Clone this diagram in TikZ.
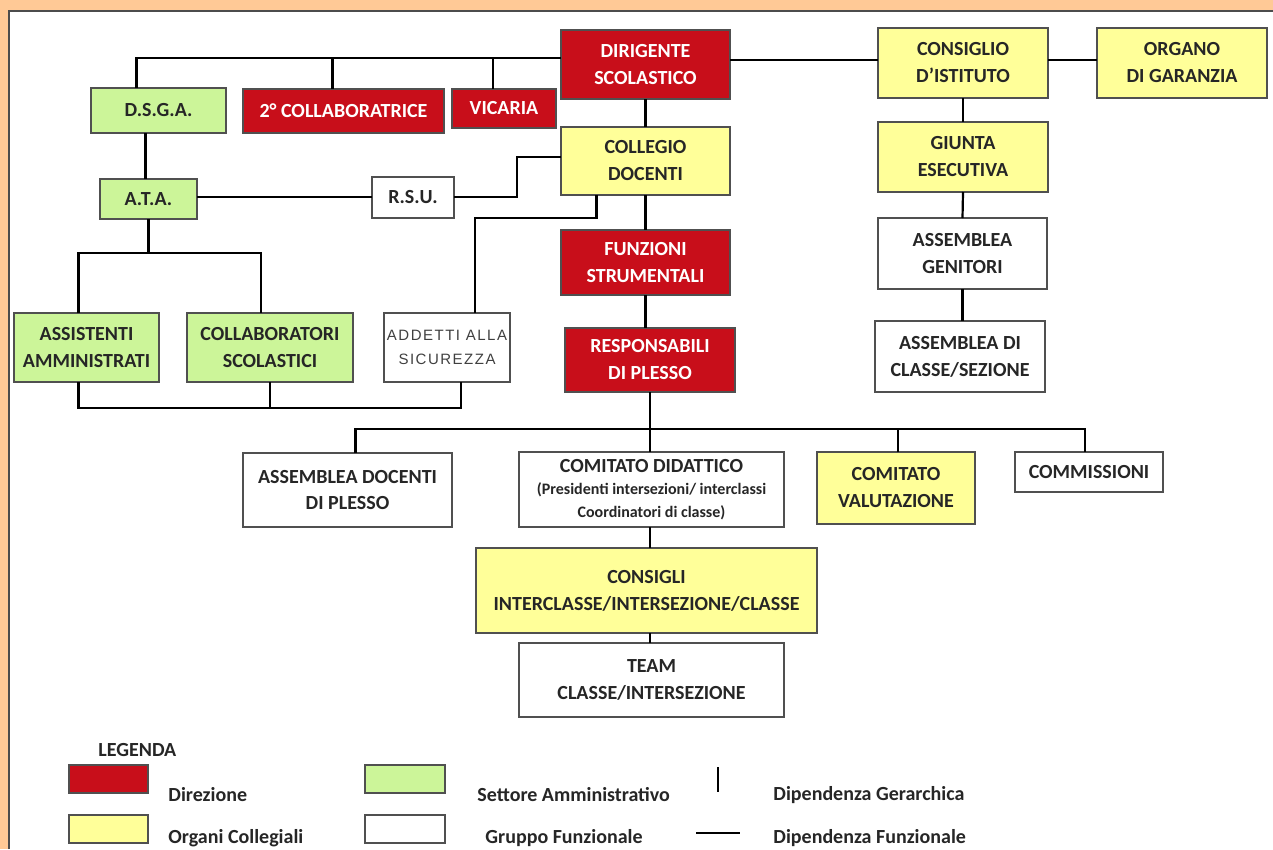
\documentclass[tikz,border=0pt]{standalone}
\usepackage{fontspec}
\setmainfont{Carlito}
\newfontfamily\addfont[LetterSpace=10]{Liberation Sans}
\definecolor{bgorange}{RGB}{255,201,150}
\definecolor{dirred}{RGB}{200,14,26}
\definecolor{colyellow}{RGB}{255,255,153}
\definecolor{ammgreen}{RGB}{204,245,153}
\definecolor{edgegray}{RGB}{80,80,80}

\begin{document}
\begin{tikzpicture}[x=1pt,y=-1pt,line width=2.2pt,
  box/.style={draw=edgegray,line width=1.6pt,inner sep=0pt,outer sep=0pt,align=center,
    font=\bfseries\fontsize{20}{27}\selectfont,text=black!85},
  dirbox/.style={box,fill=dirred,text=white},
  colbox/.style={box,fill=colyellow},
  ammbox/.style={box,fill=ammgreen},
  funbox/.style={box,fill=white},
  legtext/.style={anchor=west,font=\bfseries\fontsize{20}{22}\selectfont,text=black!85}]
\useasboundingbox (0,0) rectangle (1273,849);
\fill [bgorange] (0,0) rectangle (1273,849);
\fill [white] (9,11) rectangle (1273,849);
\draw [black!70,line width=1.5pt] (9,849) -- (9,11) -- (1273,11);

% top rows
\node [dirbox,minimum width=169pt,minimum height=69pt] (dir) at (645.5,64.5) {DIRIGENTE\\SCOLASTICO};
\node [ammbox,minimum width=135pt,minimum height=45pt] (dsga) at (158.5,110.5) {D.S.G.A.};
\node [dirbox,minimum width=201pt,minimum height=44pt] (coll2) at (343.5,111) {2° COLLABORATRICE};
\node [dirbox,minimum width=104pt,minimum height=39pt] (vic) at (504,108.5) {VICARIA};
\node [colbox,minimum width=170pt,minimum height=70pt] (cons) at (963,63) {CONSIGLIO\\D'ISTITUTO};
\node [colbox,minimum width=170pt,minimum height=70pt] (org) at (1182,63) {ORGANO\\DI GARANZIA};
\node [colbox,minimum width=169pt,minimum height=68pt] (coldoc) at (645.5,161) {COLLEGIO\\DOCENTI};
\node [colbox,minimum width=170pt,minimum height=70pt] (giunta) at (963,157) {GIUNTA\\ESECUTIVA};
\node [ammbox,minimum width=97pt,minimum height=40pt] (ata) at (148.5,199) {A.T.A.};
\node [funbox,minimum width=82pt,minimum height=41pt] (rsu) at (413,197.5) {R.S.U.};
\node [dirbox,minimum width=169pt,minimum height=65pt] (fun) at (645.5,262.5) {FUNZIONI\\STRUMENTALI};
\node [funbox,minimum width=169pt,minimum height=71pt] (genit) at (962.5,253.5) {ASSEMBLEA\\GENITORI};

% middle rows
\node [ammbox,minimum width=145pt,minimum height=69pt] (assist) at (86.5,347.5) {ASSISTENTI\\AMMINISTRATI};
\node [ammbox,minimum width=166pt,minimum height=69pt] (collsc) at (270,347.5) {COLLABORATORI\\SCOLASTICI};
\node [funbox,minimum width=126pt,minimum height=69pt,font=\addfont\fontsize{15}{24}\selectfont,text=black!75] (addetti) at (447,347.5) {ADDETTI ALLA\\SICUREZZA};
\node [dirbox,minimum width=170pt,minimum height=64pt] (resp) at (650,360) {RESPONSABILI\\DI PLESSO};
\node [funbox,minimum width=170pt,minimum height=71pt] (classe) at (960,356.5) {ASSEMBLEA DI\\CLASSE/SEZIONE};

% lower rows
\node [funbox,minimum width=209pt,minimum height=74pt] (asdoc) at (347.5,490) {ASSEMBLEA DOCENTI\\DI PLESSO};
\node [funbox,minimum width=265pt,minimum height=75pt] (comdid) at (651.5,489.5) {COMITATO DIDATTICO\\[-5pt]
  {\fontsize{16}{21}\selectfont (Presidenti intersezioni/ interclassi}\\[-4pt]
  {\fontsize{16}{21}\selectfont Coordinatori di classe)}};
\node [colbox,minimum width=158pt,minimum height=72pt] (comval) at (896,488) {COMITATO\\VALUTAZIONE};
\node [funbox,minimum width=148pt,minimum height=40pt] (commis) at (1089,472) {COMMISSIONI};
\node [colbox,minimum width=341pt,minimum height=85pt] (consigli) at (646.5,590.5) {CONSIGLI\\INTERCLASSE/INTERSEZIONE/CLASSE};
\node [funbox,minimum width=265pt,minimum height=74pt] (team) at (651.5,680) {TEAM\\CLASSE/INTERSEZIONE};

% connectors
\draw (dir.west |- 0,58) -| ([xshift=-22pt]dsga.north);
\draw ([xshift=-11pt]coll2.north) -- ([xshift=-11pt]coll2.north |- 0,58);
\draw ([xshift=-11pt]vic.north) -- ([xshift=-11pt]vic.north |- 0,58);
\draw (dir.east |- 0,60) -- (cons.west |- 0,60);
\draw (cons.east |- 0,60) -- (org.west |- 0,60);
\draw (dir.south) -- (coldoc.north);
\draw (cons.south) -- (giunta.north);
\draw (giunta.south) -- (genit.north);
\draw (genit.south) -- (genit.south |- classe.north);
\draw ([xshift=-13pt]dsga.south) -- ([xshift=-13pt]dsga.south |- ata.north);
\draw (ata.east |- 0,197) -- (rsu.west |- 0,197);
\draw (rsu.east |- 0,197) -- ++(63,0) |- (coldoc.west |- 0,157);
\draw ([xshift=-49pt]coldoc.south) -- ++(0,23) -| ([xshift=28pt]addetti.north);
\draw (coldoc.south) -- (fun.north);
\draw (fun.south) -- (fun.south |- resp.north);
\draw (ata.south) -- (ata.south |- 0,253);
\draw ([xshift=-8pt]assist.north) |- ([xshift=-9pt]collsc.north |- 0,253) -- ([xshift=-9pt]collsc.north);
\draw ([xshift=-8pt]assist.south) |- ([xshift=14pt]addetti.south |- 0,408) -- ([xshift=14pt]addetti.south);
\draw (collsc.south) -- (collsc.south |- 0,408);
\coordinate (busr) at (650,429);
\draw (resp.south) -- (busr);
\draw ([xshift=8pt]asdoc.north) |- ([xshift=-4pt]commis.north |- busr) -- ([xshift=-4pt]commis.north);
\draw ([xshift=-1.5pt]comdid.north) -- ([xshift=-1.5pt]comdid.north |- busr);
\draw ([xshift=2pt]comval.north) -- ([xshift=2pt]comval.north |- busr);
\draw ([xshift=-1.5pt]comdid.south) -- ([xshift=-1.5pt]comdid.south |- consigli.north);
\draw ([xshift=-1.5pt]team.north) -- ([xshift=-1.5pt]team.north |- consigli.south);

% legend
\node [legtext] (leg) at (94,750) {LEGENDA};
\node [dirbox,minimum width=79pt,minimum height=28pt] (legdir) at (108.5,779) {};
\node [colbox,minimum width=79pt,minimum height=28pt] (legcol) at (108.5,829) {};
\node [ammbox,minimum width=80pt,minimum height=28pt] (legamm) at (405,779) {};
\node [funbox,minimum width=80pt,minimum height=28pt] (legfun) at (405,829) {};
\node [legtext] (tdir) at (164,795) {Direzione};
\node [legtext] (tcol) at (164,838) {Organi Collegiali};
\node [legtext] (tamm) at (473,795) {Settore Amministrativo};
\node [legtext] (tfun) at (481,838) {Gruppo Funzionale};
\draw (718,767) -- (718,792);
\draw (696,833) -- (740,833);
\node [legtext] (tger) at (769,795) {Dipendenza Gerarchica};
\node [legtext] (tfunz) at (769,838) {Dipendenza Funzionale};
\end{tikzpicture}
\end{document}
